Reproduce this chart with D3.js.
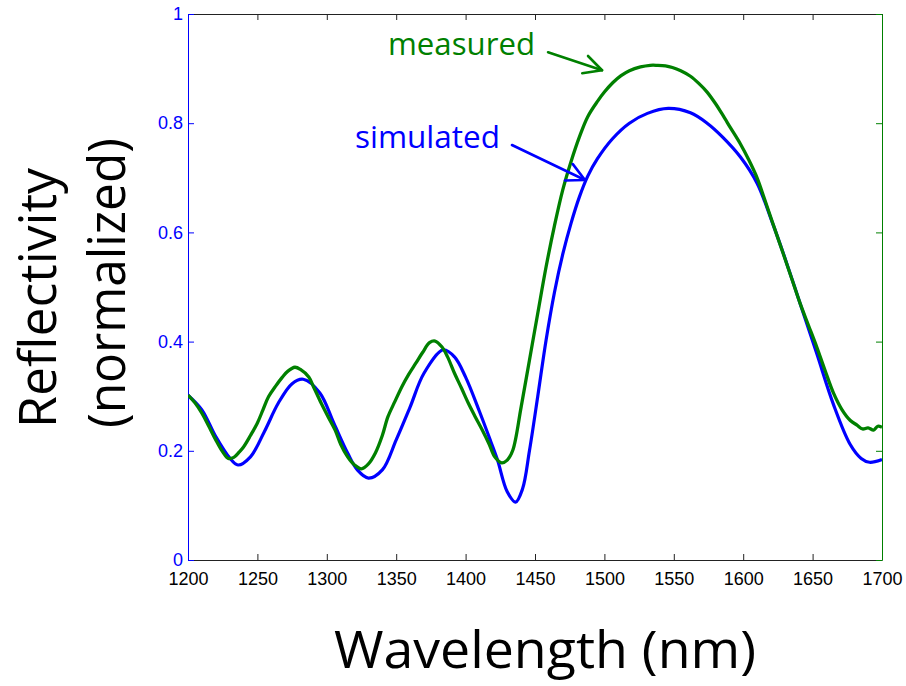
<!DOCTYPE html>
<html>
<head>
<meta charset="utf-8">
<script src="https://cdn.jsdelivr.net/npm/d3@7"></script>
<style>
  html, body { margin: 0; padding: 0; background: #ffffff; }
  svg { display: block; }
</style>
</head>
<body>
<svg id="chart" width="906" height="686"></svg>
<script>
// Reflectivity spectra: simulated vs. measured (normalized)
const simWavelength = [1200, 1210, 1220, 1230, 1236, 1245, 1255, 1265, 1275, 1283, 1295, 1305, 1315, 1322, 1330, 1340, 1350, 1360, 1370, 1384, 1392, 1400, 1410, 1418, 1423, 1430, 1436, 1441, 1446, 1452, 1458, 1464, 1470, 1476, 1482, 1488, 1495, 1506, 1518, 1531, 1546, 1562, 1574, 1585, 1598, 1610, 1621, 1629, 1641, 1653, 1665, 1677, 1685, 1691, 1700];
const simReflectivity = [0.302, 0.275, 0.226, 0.187, 0.174, 0.189, 0.235, 0.287, 0.323, 0.331, 0.306, 0.251, 0.196, 0.165, 0.150, 0.165, 0.220, 0.280, 0.342, 0.385, 0.372, 0.335, 0.272, 0.218, 0.183, 0.125, 0.106, 0.130, 0.200, 0.300, 0.403, 0.490, 0.560, 0.617, 0.665, 0.703, 0.735, 0.772, 0.800, 0.818, 0.827, 0.819, 0.800, 0.775, 0.738, 0.690, 0.618, 0.561, 0.470, 0.378, 0.285, 0.212, 0.186, 0.179, 0.184];

const measWavelength = [1200, 1205, 1210, 1215, 1220, 1225, 1229, 1233, 1237, 1240, 1245, 1250, 1254, 1258, 1263, 1268, 1272, 1277, 1281, 1287, 1291, 1296, 1301, 1306, 1310, 1315, 1320, 1325, 1330, 1335, 1340, 1344, 1349, 1354, 1359, 1364, 1369, 1374, 1378, 1383, 1387, 1392, 1397, 1402, 1407, 1412, 1417, 1421, 1426, 1430, 1434, 1440, 1446, 1452, 1458, 1464, 1470, 1476, 1482, 1488, 1495, 1500, 1506, 1512, 1518, 1526, 1533, 1538, 1544, 1549, 1555, 1562, 1568, 1574, 1580, 1585, 1591, 1598, 1604, 1610, 1615, 1621, 1629, 1635, 1641, 1647, 1653, 1659, 1665, 1671, 1677, 1682, 1686, 1690, 1694, 1697, 1700];
const measReflectivity = [0.302, 0.288, 0.269, 0.245, 0.220, 0.198, 0.186, 0.188, 0.198, 0.207, 0.228, 0.251, 0.275, 0.299, 0.318, 0.335, 0.346, 0.353, 0.349, 0.335, 0.314, 0.287, 0.262, 0.238, 0.212, 0.189, 0.174, 0.167, 0.176, 0.196, 0.228, 0.262, 0.290, 0.317, 0.340, 0.360, 0.380, 0.398, 0.401, 0.390, 0.372, 0.342, 0.315, 0.287, 0.262, 0.238, 0.212, 0.189, 0.178, 0.183, 0.201, 0.280, 0.366, 0.452, 0.537, 0.612, 0.678, 0.730, 0.775, 0.812, 0.840, 0.857, 0.874, 0.887, 0.896, 0.903, 0.906, 0.906, 0.905, 0.902, 0.896, 0.886, 0.873, 0.857, 0.836, 0.816, 0.791, 0.762, 0.733, 0.700, 0.664, 0.619, 0.560, 0.515, 0.470, 0.430, 0.390, 0.347, 0.306, 0.276, 0.256, 0.247, 0.240, 0.242, 0.238, 0.245, 0.243];

const xTicks = [1200, 1250, 1300, 1350, 1400, 1450, 1500, 1550, 1600, 1650, 1700];
const yTicks = [0, 0.2, 0.4, 0.6, 0.8, 1];

// Callout labels, in data units
const calloutNames = ["measured", "simulated"];
const calloutLabelAt = [[1344.1, 0.925], [1320.3, 0.755]];
const calloutArrowFrom = [[1459.4, 0.930], [1433.4, 0.760]];
const calloutArrowTo = [[1498.3, 0.897], [1486.0, 0.696]];

const BLUE = "#0000ff";
const GREEN = "#008000";
const AXIS = "#222222";

const svg = d3.select("#chart");
const plotLeft = 188, plotRight = 882, plotTop = 14, plotBottom = 560;

const x = d3.scaleLinear().domain([1200, 1700]).range([plotLeft, plotRight]);
const y = d3.scaleLinear().domain([0, 1]).range([plotBottom, plotTop]);

svg.append("defs").append("clipPath").attr("id", "plotClip")
  .append("rect").attr("x", plotLeft).attr("y", plotTop)
  .attr("width", plotRight - plotLeft).attr("height", plotBottom - plotTop);

// Axes: ticks point inward, as in a boxed two-axis plot
const tickFont = "'Liberation Sans', Arial, sans-serif";

const gBottom = svg.append("g").attr("transform", `translate(0,${plotBottom})`)
  .call(d3.axisBottom(x).tickValues(xTicks).tickSize(-6).tickSizeOuter(0).tickPadding(12).tickFormat(d3.format("d")));
gBottom.selectAll("path, line").attr("stroke", AXIS);
gBottom.selectAll("text").attr("fill", "#000").style("font", `18px ${tickFont}`);

const gTop = svg.append("g").attr("transform", `translate(0,${plotTop})`)
  .call(d3.axisTop(x).tickValues(xTicks).tickSize(-6).tickSizeOuter(0).tickFormat(""));
gTop.selectAll("path, line").attr("stroke", AXIS);

const gLeft = svg.append("g").attr("transform", `translate(${plotLeft},0)`)
  .call(d3.axisLeft(y).tickValues(yTicks).tickSize(-6).tickSizeOuter(0).tickPadding(5).tickFormat(d => String(+d.toFixed(1))));
gLeft.selectAll("path, line").attr("stroke", BLUE);
gLeft.selectAll("text").attr("fill", BLUE).style("font", `18px ${tickFont}`);

const gRight = svg.append("g").attr("transform", `translate(${plotRight},0)`)
  .call(d3.axisRight(y).tickValues(yTicks).tickSize(-6).tickSizeOuter(0).tickFormat(""));
gRight.selectAll("path, line").attr("stroke", GREEN);

// Spectra
const simData = simWavelength.map((w, i) => [w, simReflectivity[i]]);
const measData = measWavelength.map((w, i) => [w, measReflectivity[i]]);

const line = d3.line().x(d => x(d[0])).y(d => y(d[1])).curve(d3.curveCatmullRom.alpha(0.5));

const plot = svg.append("g").attr("clip-path", "url(#plotClip)");
plot.append("path").datum(simData)
  .attr("d", line).attr("fill", "none").attr("stroke", BLUE)
  .attr("stroke-width", 3.2).attr("stroke-linejoin", "round");
plot.append("path").datum(measData)
  .attr("d", line).attr("fill", "none").attr("stroke", GREEN)
  .attr("stroke-width", 3.3).attr("stroke-linejoin", "round");

// Callouts with open arrowheads
const calloutColor = [GREEN, BLUE];
const calloutWidth = [147, 145];
calloutNames.forEach((name, i) => {
  const c = calloutColor[i];
  svg.append("text")
    .attr("x", x(calloutLabelAt[i][0])).attr("y", y(calloutLabelAt[i][1]))
    .attr("fill", c)
    .attr("textLength", calloutWidth[i]).attr("lengthAdjust", "spacingAndGlyphs")
    .style("font", "31px 'Open Sans', sans-serif")
    .text(name);

  const x0 = x(calloutArrowFrom[i][0]), y0 = y(calloutArrowFrom[i][1]);
  const x1 = x(calloutArrowTo[i][0]), y1 = y(calloutArrowTo[i][1]);
  const ang = Math.atan2(y0 - y1, x0 - x1);
  const len = 20, spread = 27 * Math.PI / 180;
  const b1 = [x1 + len * Math.cos(ang + spread), y1 + len * Math.sin(ang + spread)];
  const b2 = [x1 + len * Math.cos(ang - spread), y1 + len * Math.sin(ang - spread)];
  const g = svg.append("g").attr("stroke", c).attr("stroke-width", 2.6)
    .attr("fill", "none").attr("stroke-linecap", "round");
  g.append("line").attr("x1", x0).attr("y1", y0).attr("x2", x1).attr("y2", y1);
  g.append("path").attr("d", `M${b1[0]},${b1[1]}L${x1},${y1}L${b2[0]},${b2[1]}`)
    .attr("stroke-linejoin", "round");
});

// Axis titles
const titleFont = "51px 'Open Sans', sans-serif";
svg.append("text")
  .attr("transform", "translate(56,428) rotate(-90)")
  .attr("textLength", 260).attr("lengthAdjust", "spacingAndGlyphs")
  .style("font", titleFont).attr("fill", "#000")
  .text("Reflectivity");
svg.append("text")
  .attr("transform", "translate(125,428) rotate(-90)")
  .attr("textLength", 290).attr("lengthAdjust", "spacingAndGlyphs")
  .style("font", titleFont).attr("fill", "#000")
  .text("(normalized)");
svg.append("text")
  .attr("x", 334).attr("y", 668)
  .attr("textLength", 422).attr("lengthAdjust", "spacingAndGlyphs")
  .style("font", titleFont).attr("fill", "#000")
  .text("Wavelength (nm)");
</script>
</body>
</html>
